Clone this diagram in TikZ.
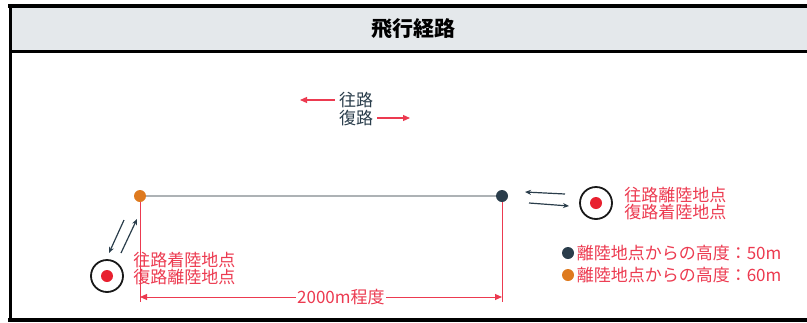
\documentclass[tikz,border=0pt]{standalone}
\usepackage{fontspec}
\setmainfont{Noto Sans CJK JP}
\usetikzlibrary{arrows.meta}
\definecolor{hdrgray}{HTML}{E4E8EB}
\definecolor{dnavy}{HTML}{2A3D4B}
\definecolor{dorange}{HTML}{DE7A1F}
\definecolor{tred}{HTML}{EC3A50}
\definecolor{dotred}{HTML}{E8202F}
\definecolor{pathgray}{HTML}{ADB2B5}
\tikzset{every picture/.style={line width=0.75pt}}
\tikzset{
	lbl/.style={font=\fontsize{17}{17.5}\selectfont,inner sep=2pt},
	redlbl/.style={lbl,text=tred,align=left},
	dot/.style={circle,inner sep=0pt,minimum size=12pt},
	target/.style={circle,draw=black!90,line width=1.8pt,fill=white,minimum size=32pt,inner sep=0pt},
	bullseye/.style={circle,fill=dotred,inner sep=0pt,minimum size=12pt},
	redarr/.style={draw=tred,line width=1.2pt,-{Triangle[length=7pt,width=6pt]}},
	sarr/.style={draw=dnavy,line width=1.2pt,-{Stealth[length=6pt,width=5pt]}},
	dimline/.style={draw=tred,line width=1pt,{Triangle[length=7pt,width=6pt]}-{Triangle[length=7pt,width=6pt]}}
}
\begin{document}
\begin{tikzpicture}[x=1pt,y=-1pt]
	\useasboundingbox (0,0) rectangle (807,322);
	\fill[hdrgray] (10,7) rectangle (807,51); %見出し
	\draw[line width=4pt] (8,6)--(807,6);
	\draw[line width=3pt] (10,51)--(807,51);
	\draw[line width=3pt] (10,5)--(10,322);
	\draw[line width=4pt] (8,320)--(807,320);
	\node[lbl,font=\bfseries\fontsize{21}{21}\selectfont] (title) at (413,29) {飛行経路};
	% 往路・復路
	\node[lbl,text=dnavy] (outw) at (356,100) {往路};
	\node[lbl,text=dnavy] (retn) at (356,118) {復路};
	\coordinate (outwTip) at (300,100);
	\coordinate (retnTip) at (410,118);
	\draw[redarr,shorten <=2pt] (outw)--(outwTip);
	\draw[redarr,shorten <=2pt] (retn)--(retnTip);
	% 飛行経路
	\node[dot,fill=dorange] (dep) at (140,196) {};
	\node[dot,fill=dnavy] (arr) at (502,196) {};
	\draw[pathgray,line width=2.2pt] (dep)--(arr);
	\coordinate (dimL) at (140,302);
	\coordinate (dimR) at (502,302);
	\draw[tred,line width=1pt] (dep)--(dimL);
	\draw[tred,line width=1pt] (arr)--(dimR);
	\coordinate (dL) at (140,297);
	\coordinate (dR) at (502,297);
	\draw[dimline] (dL)--(dR) node[lbl,text=tred,fill=white,pos=.555,inner sep=1pt]{2000m程度};
	% 離着陸地点
	\node[target] (tgtL) at (107,276) {};
	\node[bullseye] at (tgtL) {};
	\node[target] (tgtR) at (596,203) {};
	\node[bullseye] at (tgtR) {};
	\node[redlbl,anchor=west] (lblL) at (131,268.5) {往路着陸地点\\復路離陸地点};
	\node[redlbl,anchor=west] (lblR) at (622,203.5) {往路離陸地点\\復路着陸地点};
	\coordinate (lA0) at (124,220);
	\coordinate (lA1) at (109,253);
	\coordinate (lB0) at (121,253);
	\coordinate (lB1) at (137,219);
	\draw[sarr] (lA0)--(lA1);
	\draw[sarr] (lB0)--(lB1);
	\coordinate (rA0) at (565,194);
	\coordinate (rA1) at (525,192);
	\coordinate (rB0) at (529,203);
	\coordinate (rB1) at (569,206);
	\draw[sarr] (rA0)--(rA1);
	\draw[sarr] (rB0)--(rB1);
	% 凡例
	\node[dot,fill=dnavy] (lg1) at (568,253) {};
	\node[redlbl,anchor=west] (lg1t) at (lg1.east) {離陸地点からの高度：50m};
	\node[dot,fill=dorange] (lg2) at (568,275) {};
	\node[redlbl,anchor=west] (lg2t) at (lg2.east) {離陸地点からの高度：60m};
\end{tikzpicture}
\end{document}
